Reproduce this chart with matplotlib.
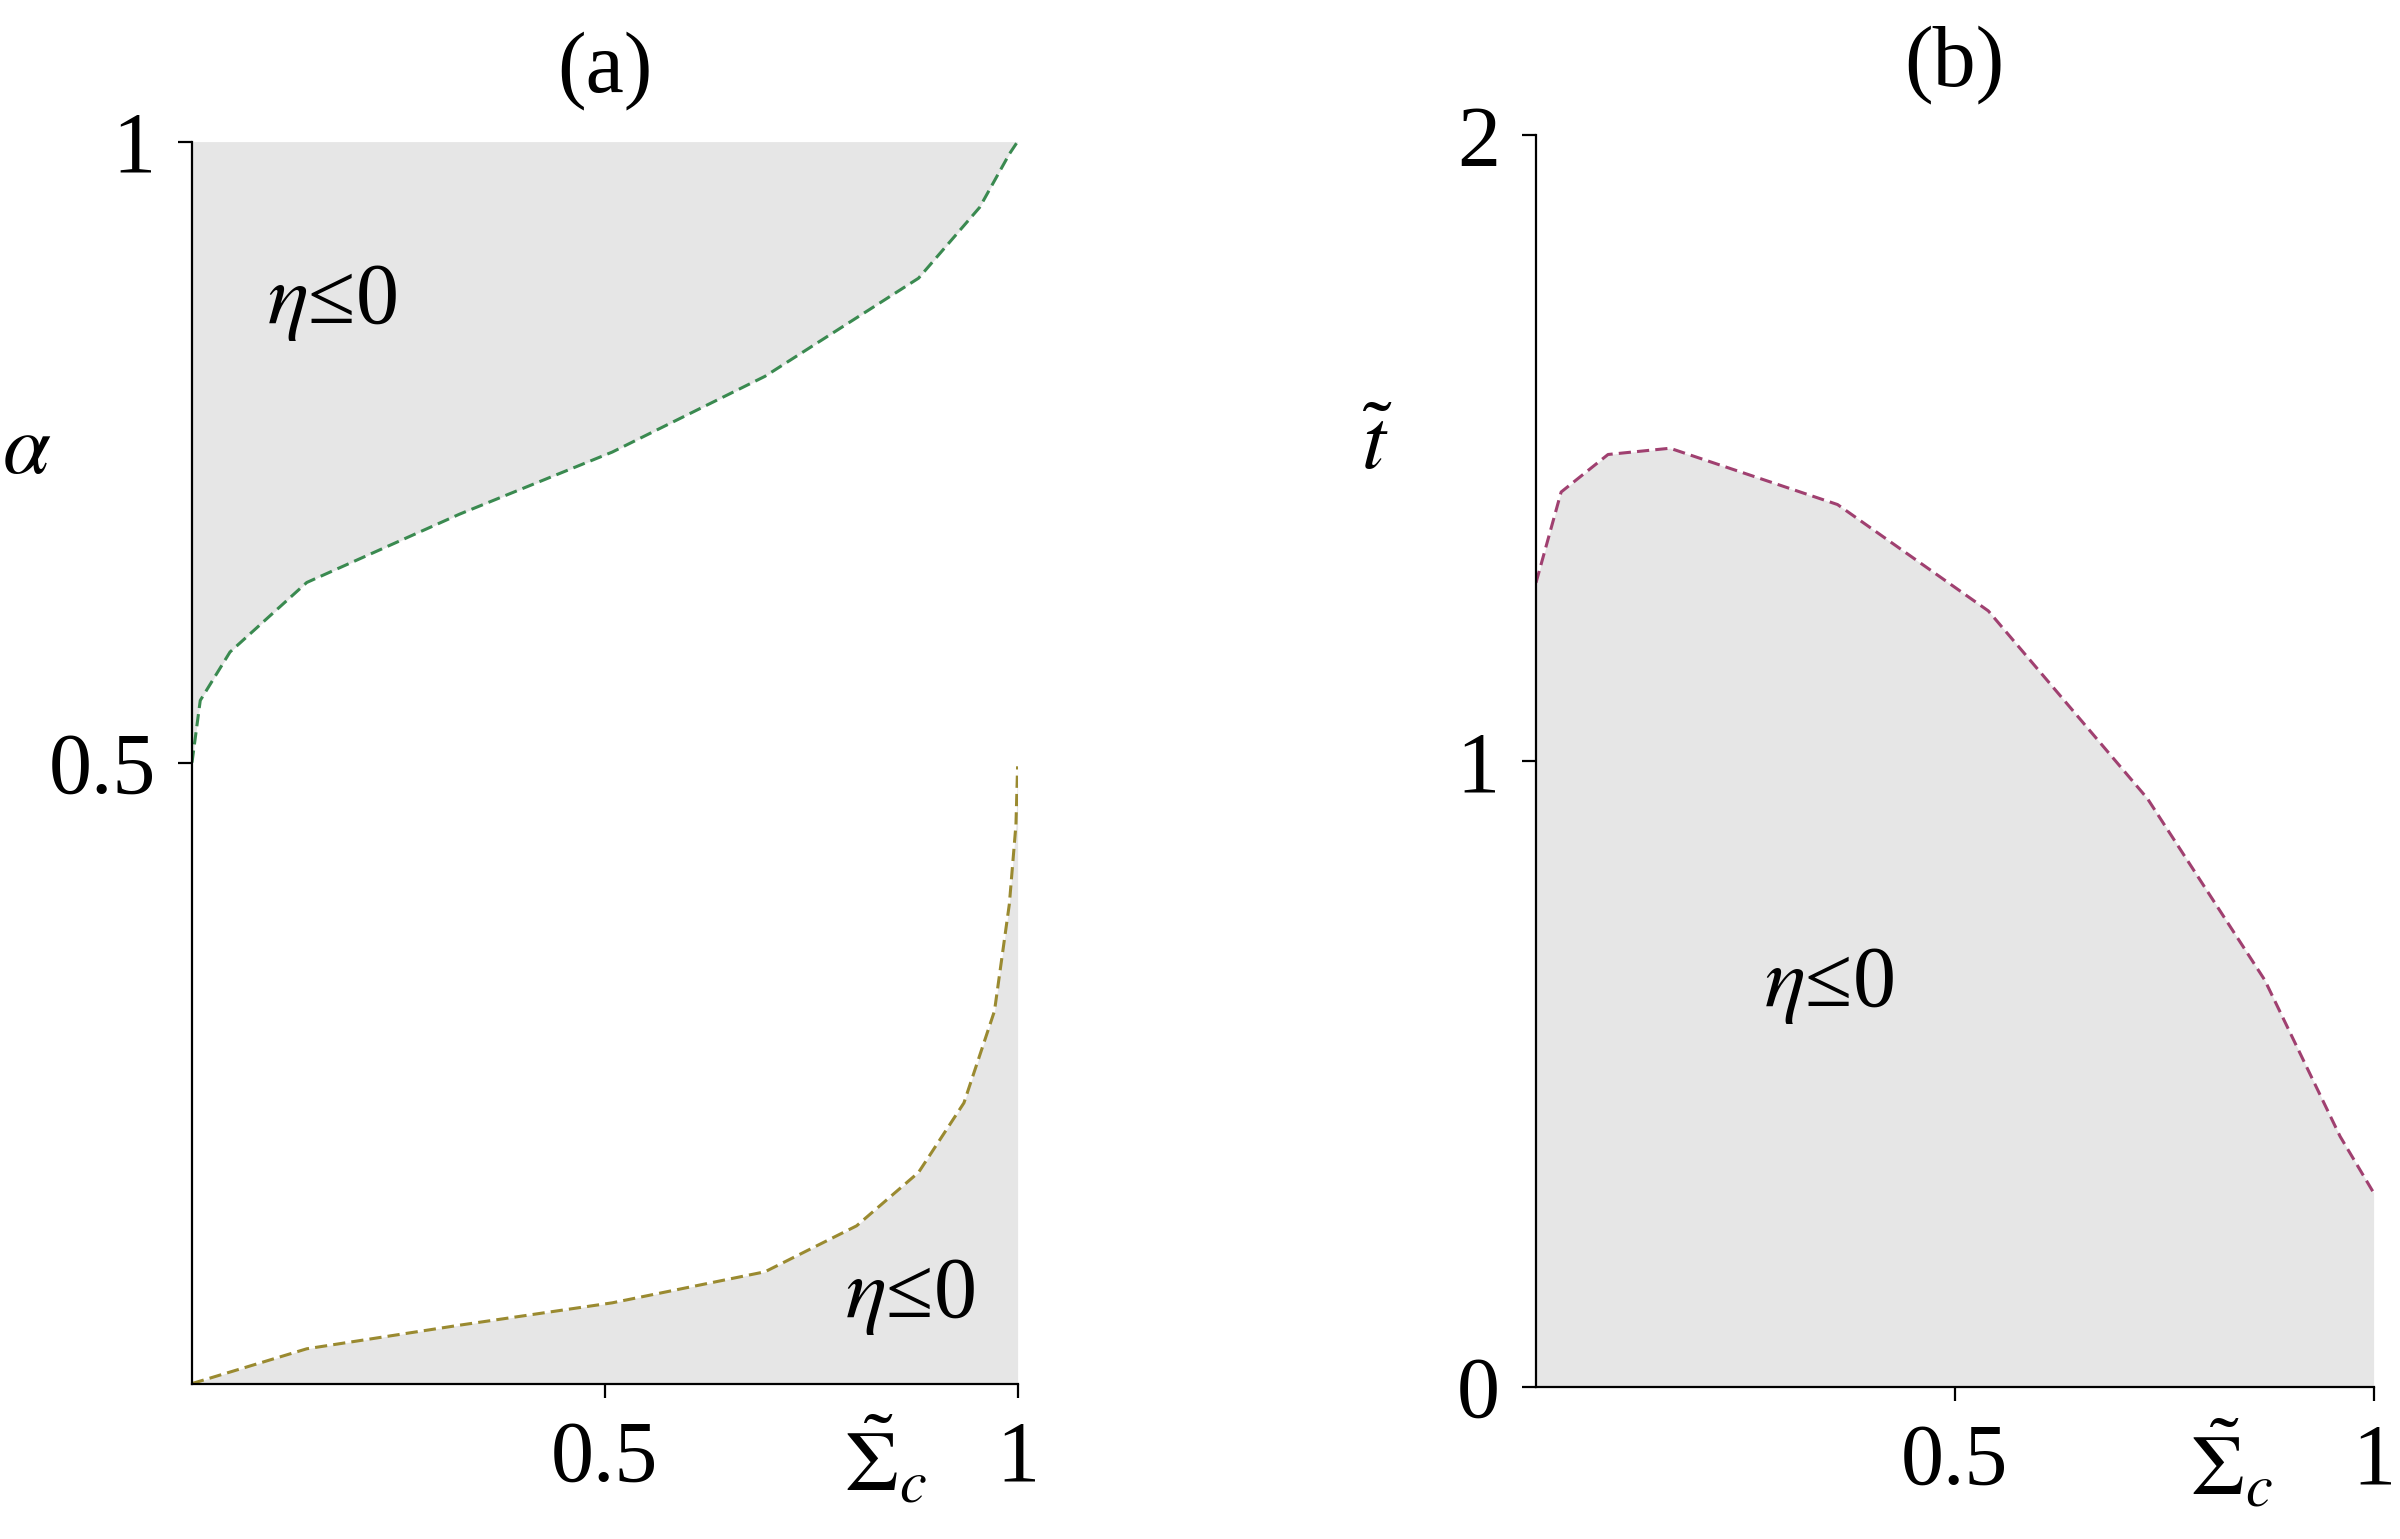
import numpy as np
import matplotlib.pyplot as plt

plt.rcParams['font.family'] = ['Liberation Serif', 'DejaVu Serif']
plt.rcParams['mathtext.fontset'] = 'stix'

# panel (a): upper boundary
up_x = [0.0, 0.01, 0.046, 0.139, 0.324, 0.509, 0.694, 0.88, 0.954, 0.99, 1.0]
up_a = [0.5, 0.55, 0.589, 0.645, 0.70, 0.75, 0.811, 0.89, 0.947, 0.99, 1.0]
# panel (a): lower boundary
lo_x = [0.0, 0.139, 0.324, 0.509, 0.694, 0.805, 0.88, 0.935, 0.972, 0.99, 0.998, 1.0]
lo_a = [0.0, 0.028, 0.047, 0.065, 0.09, 0.127, 0.17, 0.226, 0.30, 0.386, 0.45, 0.497]
# panel (b): boundary
b_x = [0.0, 0.03, 0.086, 0.16, 0.36, 0.54, 0.73, 0.87, 0.96, 1.0]
b_t = [1.285, 1.43, 1.49, 1.50, 1.41, 1.24, 0.94, 0.65, 0.40, 0.31]

fill = '#e6e6e6'
fs = 31

fig = plt.figure(figsize=(12, 7.695), dpi=200)
axa = fig.add_axes([0.080, 0.101, 0.344, 0.807])
axb = fig.add_axes([0.640, 0.099, 0.349, 0.813])


def style(ax, ymax, yticks):
    ax.set_xlim(0, 1)
    ax.set_ylim(0, ymax)
    for s in ['top', 'right']:
        ax.spines[s].set_visible(False)
    ax.spines['left'].set_linewidth(0.8)
    ax.spines['bottom'].set_linewidth(0.8)
    ax.set_xticks([0.5, 1])
    ax.set_xticklabels(['0.5', '1'])
    ax.set_yticks(yticks)
    ax.set_yticklabels([('%g' % v) for v in yticks])
    ax.tick_params(labelsize=fs, length=5, width=0.8, direction='out', pad=8)


# (a)
axa.fill_between(up_x, up_a, 1, color=fill, lw=0)
axa.fill_between(lo_x, 0, lo_a, color=fill, lw=0)
axa.plot(up_x, up_a, color='#3a8a50', ls=(0, (4, 2)), lw=1.1)
axa.plot(lo_x, lo_a, color='#9a8a30', ls=(0, (4, 2)), lw=1.1)
style(axa, 1, [0.5, 1])
axa.text(0.17, 0.87, r'$\eta$≤0', fontsize=fs, ha='center', va='center')
axa.text(0.87, 0.07, r'$\eta$≤0', fontsize=fs, ha='center', va='center')
axa.set_title('(a)', fontsize=fs, pad=18)
axa.text(-0.2, 0.75, r'$\alpha$', fontsize=fs, ha='center', va='center')
axa.text(0.84, -0.065, r'$\tilde{\Sigma}_c$', fontsize=fs, ha='center', va='center')

# (b)
axb.fill_between(b_x, 0, b_t, color=fill, lw=0)
axb.plot(b_x, b_t, color='#a04070', ls=(0, (4, 2)), lw=1.1)
style(axb, 2, [0, 1, 2])
axb.text(0.35, 0.64, r'$\eta$≤0', fontsize=fs, ha='center', va='center')
axb.set_title('(b)', fontsize=fs, pad=18)
axb.text(-0.19, 1.5, r'$\tilde{t}$', fontsize=fs, ha='center', va='center')
axb.text(0.83, -0.13, r'$\tilde{\Sigma}_c$', fontsize=fs, ha='center', va='center')

fig.savefig('out.png', dpi=200, facecolor='white')
